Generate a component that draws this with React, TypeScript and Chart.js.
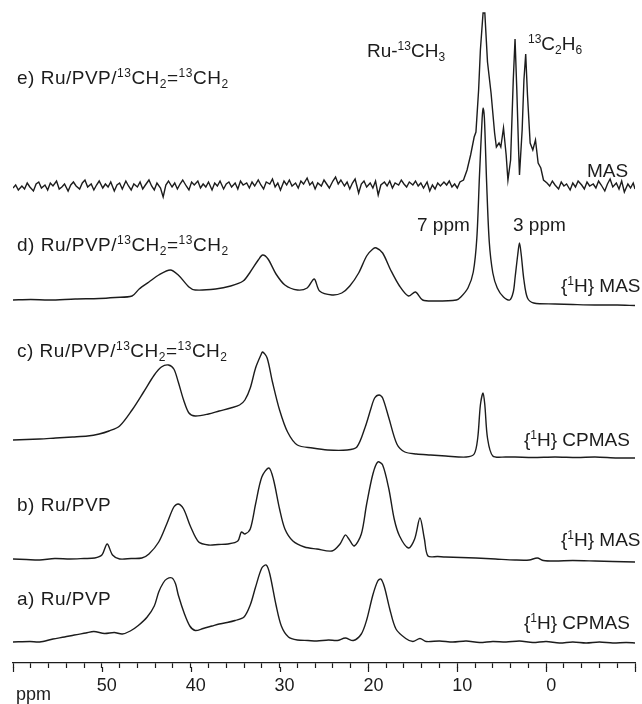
import React, { useEffect, useRef } from 'react';
import { Chart, registerables } from 'chart.js';

Chart.register(...registerables);

const FONT = '"Liberation Sans", Arial, Helvetica, sans-serif';
const INK = '#1c1c1c';

// x axis (ppm, reversed)
const PPM_LEFT = 60;
const PPM_RIGHT = -10;
const PPM_STEP = 2;
const TICK_LABELS = [50, 40, 30, 20, 10, 0];
const MAJOR_TICKS = [60, 50, 40, 30, 20, 10, 0, -10];

// each spectrum: [ppm, intensity above its own baseline]
const specA: [number, number][] = [
  [60, 0], [58.1, 0.5], [57, 0], [55.5, 3], [54.2, 5], [53.1, 7], [51.8, 9], [50.9, 10.5], [49.7, 8.5],
  [48.6, 9.5], [47.7, 8], [46.8, 11], [45.9, 16.5], [44.9, 25], [44.1, 36], [43.6, 50], [43.1, 59],
  [42.7, 63], [42.1, 64], [41.7, 58], [41.4, 47], [40.7, 28], [40.1, 16], [39.5, 11.5], [38.6, 13.5],
  [37.6, 16], [36.8, 18], [35.9, 19.5], [35.0, 21.5], [34.0, 25], [33.3, 37], [32.7, 55], [32.0, 74],
  [31.5, 77], [31.1, 68], [30.4, 37], [29.8, 16], [29.0, 5], [28.0, 2], [26.8, 1.5], [25.8, 1],
  [24.5, 2], [23.5, 1.5], [22.6, 4], [21.7, 1.5], [20.8, 8], [20.2, 22], [19.5, 47], [18.95, 61],
  [18.6, 63], [18.2, 55], [17.6, 33], [16.9, 13], [15.8, 3.5], [15.0, 0.5], [14.2, 3.5], [13.5, 0.5],
  [12.0, 1], [10.5, 0], [9.0, 1], [7.5, -0.5], [6.0, 0.5], [4.5, 0], [3.0, 1], [1.5, -0.5], [0, 0.5],
  [-1.5, -1], [-3, 0], [-4.5, -1], [-6, 0], [-7.5, -1], [-9, -0.5], [-10, -1],
];

const specB: [number, number][] = [
  [60, 0], [58.5, -0.5], [57, -1], [55.3, 0.5], [53.6, 0], [52, 0.5], [50.8, 1], [50.0, 4], [49.4, 15],
  [48.8, 4], [48.0, 0], [46.7, 0.5], [45.5, 1], [44.7, 5], [43.6, 17], [42.7, 35], [41.9, 52],
  [41.4, 55], [40.8, 50], [40.0, 32], [39.1, 17], [38.0, 14], [36.9, 14.5], [35.8, 15], [34.7, 18],
  [34.3, 27], [33.9, 25], [33.3, 30], [32.7, 55], [32.0, 82], [31.2, 91], [30.7, 80], [30.0, 50],
  [29.4, 30], [28.5, 18], [27.2, 12], [25.8, 10], [24.1, 8], [23.2, 15], [22.6, 24], [22.2, 20],
  [21.6, 13], [20.8, 25], [20.2, 55], [19.5, 85], [18.95, 97], [18.4, 94], [17.7, 70], [17.1, 40],
  [16.5, 23], [15.5, 11], [14.8, 20], [14.2, 41], [13.7, 20], [13.3, 3], [12.2, 2.5], [11.3, 2],
  [9.6, 1.5], [7.9, 1], [5.7, 0], [3.5, -1], [1.9, -1], [1.0, 1], [0.3, -1.5], [-1, -2], [-3, -1.5],
  [-5.5, -2], [-7.5, -2.5], [-10, -3],
];

const specC: [number, number][] = [
  [60, 0], [57, 1], [55.2, 2], [53.3, 3], [51.6, 4], [50.3, 6], [49.2, 9], [48.0, 14], [46.6, 30],
  [45.3, 48], [44.1, 65], [43.3, 73], [42.5, 75], [41.9, 71], [41.4, 58], [40.8, 40], [40.2, 27],
  [39.5, 24], [38.0, 26], [36.8, 29], [35.5, 32], [34.5, 35], [33.9, 40], [33.3, 52], [32.7, 72],
  [32.1, 85], [31.9, 88], [31.4, 82], [30.8, 58], [30.0, 30], [29.1, 8], [28.0, -5], [26.3, -8],
  [24.6, -10], [22.4, -10], [21.3, -7], [20.4, 12], [19.7, 32], [19.3, 42], [18.8, 45], [18.4, 42],
  [17.7, 22], [16.8, -4], [15.9, -12], [14.6, -14], [13.0, -15], [11.3, -16], [9.0, -17], [8.1, -14],
  [7.7, 2], [7.4, 35], [7.1, 47], [6.9, 35], [6.6, 2], [6.0, -16], [4.5, -17], [3.5, -17], [1.5, -17.5],
  [-1.0, -17], [-3.5, -17.5], [-5.5, -17], [-8, -18], [-10, -18],
];

const specD: [number, number][] = [
  [60, 0], [58, 0.5], [55.9, 0], [53, 1], [50.3, 1.5], [48.5, 2.5], [46.6, 4], [45.8, 11], [44.7, 18],
  [43.6, 25], [42.3, 30], [41.4, 25], [40.2, 13], [39.5, 10], [37.2, 11], [35.5, 14], [34.1, 19],
  [33.3, 28], [32.4, 40], [31.9, 45], [31.3, 41], [30.4, 26], [29.4, 15], [28.0, 10], [26.9, 12],
  [26.1, 21], [25.5, 9], [24.1, 5], [23.0, 7], [22.1, 14], [21.1, 27], [20.2, 44], [19.5, 51],
  [19.1, 52], [18.4, 47], [17.5, 30], [16.5, 14], [15.5, 4], [14.7, 8], [13.9, 0], [12.4, -1],
  [10.1, 0], [9.6, 3], [8.8, 12], [8.2, 28], [7.8, 62], [7.5, 125], [7.2, 182], [7.1, 192],
  [6.95, 182], [6.7, 118], [6.4, 58], [6.0, 27], [5.5, 12], [4.8, 3], [4.1, 0], [3.7, 8], [3.5, 22],
  [3.2, 45], [3.0, 57], [2.8, 45], [2.5, 20], [2.1, 2], [1.4, -3], [-1, -4], [-3, -4.5], [-5.5, -5],
  [-8, -5], [-10, -5.5],
];

const specE: [number, number][] = [
  [60.0, -1], [59.7, 2], [59.4, -3], [59.0, 1], [58.7, -2], [58.4, 4], [58.1, 0], [57.7, -4], [57.4, 3],
  [57.1, 5], [56.8, -1], [56.4, 2], [56.1, -3], [55.8, 4], [55.5, 1], [55.1, 6], [54.8, -2], [54.5, 0],
  [54.2, 3], [53.8, -4], [53.5, 2], [53.2, 5], [52.9, 1], [52.5, -2], [52.2, 4], [51.9, 7], [51.6, 0],
  [51.2, 3], [50.9, -3], [50.6, 2], [50.3, 6], [49.9, -1], [49.6, 3], [49.3, 0], [49.0, 5], [48.6, -4],
  [48.3, 2], [48.0, 4], [47.7, -2], [47.3, 6], [47.0, 1], [46.7, -3], [46.4, 3], [46.0, 0], [45.7, 5],
  [45.4, -2], [45.1, 2], [44.7, 7], [44.4, 1], [44.1, -3], [43.8, 4], [43.4, -1], [43.1, -10], [42.8, 2],
  [42.5, 6], [42.1, 0], [41.8, 4], [41.5, -2], [41.2, 3], [40.9, 7], [40.5, 1], [40.2, -3], [39.9, 5],
  [39.6, 2], [39.2, 6], [38.9, -1], [38.6, 3], [38.3, 0], [38.0, 5], [37.6, -3], [37.3, 4], [37.0, 1],
  [36.7, 6], [36.3, -2], [36.0, 3], [35.7, 5], [35.4, 0], [35.0, 4], [34.7, -2], [34.4, 6], [34.1, 2],
  [33.7, 4], [33.4, -1], [33.1, 5], [32.8, 1], [32.4, 7], [32.1, 2], [31.8, -2], [31.5, 5], [31.1, 3],
  [30.8, 8], [30.5, 0], [30.2, 4], [29.9, -3], [29.5, 6], [29.2, 2], [28.9, 7], [28.6, 1], [28.2, 4],
  [27.9, -1], [27.6, 6], [27.3, 3], [26.9, 9], [26.6, 2], [26.3, 5], [26.0, -2], [25.7, 4], [25.3, 1],
  [25.0, 7], [24.7, 3], [24.4, -1], [24.0, 6], [23.7, 10], [23.4, 3], [23.1, 7], [22.7, 1], [22.4, 5],
  [22.1, -2], [21.8, 4], [21.5, 8], [21.1, -6], [20.8, 3], [20.5, 6], [20.2, 0], [19.8, 4], [19.5, -1],
  [19.2, 6], [18.9, -8], [18.6, 2], [18.2, 5], [17.9, 1], [17.6, 6], [17.3, -1], [17.0, 4], [16.6, 2],
  [16.3, 7], [16.0, 3], [15.7, 0], [15.4, 5], [15.0, 2], [14.7, 6], [14.4, 1], [14.1, 4], [13.8, -1],
  [13.4, 5], [13.1, -4], [12.8, 2], [12.5, -2], [12.2, 4], [11.9, 1], [11.5, 5], [11.2, 2], [10.9, 6],
  [10.6, 0], [10.3, 3], [10.0, -1],
  [9.7, 5], [9.3, 7], [8.9, 17], [8.5, 32], [8.1, 50], [7.9, 55], [7.6, 97], [7.4, 137],
  [7.1, 174], [6.9, 174], [6.6, 125], [6.2, 94], [5.8, 54], [5.6, 40], [5.3, 44], [5.1, 40], [4.8, 59],
  [4.5, 32], [4.3, 7], [4.0, 27], [3.7, 107], [3.5, 148], [3.3, 97], [3.1, 37], [3.0, 12], [2.7, 57],
  [2.5, 107], [2.3, 133], [2.1, 92], [1.8, 44], [1.5, 37], [1.2, 47], [0.9, 24], [0.6, 19], [0.3, 7],
  [-0.1, 4], [-0.4, 1], [-0.7, 6], [-1.0, 2], [-1.4, -2], [-1.7, 5], [-2.0, 1], [-2.3, 3], [-2.7, -3],
  [-3.0, 4], [-3.3, 0], [-3.6, 6], [-4.0, 2], [-4.3, -2], [-4.6, 5], [-4.9, 1], [-5.3, 3], [-5.6, -1],
  [-5.9, 6], [-6.2, 2], [-6.6, -4], [-6.9, 3], [-7.2, 8], [-7.5, 0], [-7.9, 4], [-8.2, -2], [-8.5, 6],
  [-8.8, -5], [-9.2, 3], [-9.5, -1], [-9.8, 4], [-10.0, -2],
];

const SPECTRA = [
  { key: 'a', data: specA, tension: 0.3 },
  { key: 'b', data: specB, tension: 0.3 },
  { key: 'c', data: specC, tension: 0.3 },
  { key: 'd', data: specD, tension: 0.3 },
  { key: 'e', data: specE, tension: 0 },
];
// vertical stacking offset of each spectrum baseline
const STACK_OFFSET: Record<string, number> = { a: 21, b: 104, c: 223, d: 363, e: 476 };
const Y_MAX = 663;

type Part = [string, 'n' | 'sup' | 'sub'];
type Label = { x: number; y: number; parts: Part[]; spacing?: number };

const SAMPLE_13C: Part[] = [['Ru/PVP/', 'n'], ['13', 'sup'], ['CH', 'n'], ['2', 'sub'], ['=', 'n'], ['13', 'sup'], ['CH', 'n'], ['2', 'sub']];

const LABELS: Label[] = [
  { x: 17, y: 84, parts: [['e) ', 'n'], ...SAMPLE_13C], spacing: 0.5 },
  { x: 367, y: 57, parts: [['Ru-', 'n'], ['13', 'sup'], ['CH', 'n'], ['3', 'sub']] },
  { x: 528, y: 50, parts: [['13', 'sup'], ['C', 'n'], ['2', 'sub'], ['H', 'n'], ['6', 'sub']] },
  { x: 587, y: 177, parts: [['MAS', 'n']] },
  { x: 17, y: 251, parts: [['d) ', 'n'], ...SAMPLE_13C], spacing: 0.5 },
  { x: 417, y: 231, parts: [['7 ppm', 'n']] },
  { x: 513, y: 231, parts: [['3 ppm', 'n']] },
  { x: 561, y: 292, parts: [['{', 'n'], ['1', 'sup'], ['H} MAS', 'n']] },
  { x: 17, y: 357, parts: [['c) ', 'n'], ...SAMPLE_13C], spacing: 0.5 },
  { x: 524, y: 446, parts: [['{', 'n'], ['1', 'sup'], ['H} CPMAS', 'n']] },
  { x: 17, y: 511, parts: [['b) Ru/PVP', 'n']], spacing: 0.5 },
  { x: 561, y: 546, parts: [['{', 'n'], ['1', 'sup'], ['H} MAS', 'n']] },
  { x: 17, y: 605, parts: [['a) Ru/PVP', 'n']], spacing: 0.5 },
  { x: 524, y: 629, parts: [['{', 'n'], ['1', 'sup'], ['H} CPMAS', 'n']] },
];

const textPlugin = {
  id: 'nmrText',
  afterDraw(chart: any) {
    const ctx: CanvasRenderingContext2D = chart.ctx;
    const xs = chart.scales.x;
    const bottom = chart.chartArea.bottom;
    ctx.save();
    // longer major ticks
    ctx.strokeStyle = INK;
    ctx.lineWidth = 1.2;
    MAJOR_TICKS.forEach((v) => {
      const px = Math.round(xs.getPixelForValue(v)) + 0.5;
      ctx.beginPath();
      ctx.moveTo(px, bottom + 4);
      ctx.lineTo(px, bottom + 9);
      ctx.stroke();
    });
    // axis unit
    ctx.fillStyle = INK;
    ctx.textBaseline = 'alphabetic';
    ctx.font = `18px ${FONT}`;
    ctx.fillText('ppm', 16, 700);
    // annotations
    LABELS.forEach((lab) => {
      let x = lab.x;
      (ctx as any).letterSpacing = `${lab.spacing || 0}px`;
      lab.parts.forEach(([t, kind]) => {
        let dy = 0;
        if (kind === 'n') ctx.font = `19px ${FONT}`;
        else {
          ctx.font = `12px ${FONT}`;
          dy = kind === 'sup' ? -7 : 4;
        }
        ctx.fillText(t, x, lab.y + dy);
        x += ctx.measureText(t).width;
      });
    });
    (ctx as any).letterSpacing = '0px';
    ctx.restore();
  },
};

export default function App() {
  const ref = useRef<HTMLCanvasElement | null>(null);
  useEffect(() => {
    if (!ref.current) return;
    const chart = new Chart(ref.current, {
      type: 'line',
      data: {
        datasets: SPECTRA.map((s) => ({
          label: s.key,
          data: s.data.map(([ppm, v]) => ({ x: ppm, y: v + STACK_OFFSET[s.key] })),
          borderColor: INK,
          borderWidth: 1.4,
          pointRadius: 0,
          tension: s.tension,
          fill: false,
        })),
      },
      options: {
        responsive: false,
        animation: false,
        devicePixelRatio: 1,
        layout: { padding: { left: 13, right: 1, top: 0, bottom: 0 } },
        plugins: { legend: { display: false }, tooltip: { enabled: false } },
        scales: {
          x: {
            type: 'linear',
            reverse: true,
            min: PPM_RIGHT,
            max: PPM_LEFT,
            afterFit: (s: any) => {
              s.height = 41;
            },
            ticks: {
              stepSize: PPM_STEP,
              autoSkip: false,
              maxRotation: 0,
              minRotation: 0,
              padding: 7,
              labelOffset: 5,
              color: INK,
              font: { family: FONT, size: 18 },
              callback: (v: any) => (TICK_LABELS.includes(Number(v)) ? String(v) : ''),
            },
            grid: { drawOnChartArea: false, drawTicks: true, tickLength: 5, tickColor: INK, tickWidth: 1.2 },
            border: { display: true, color: INK, width: 1.3 },
          },
          y: { display: false, min: 0, max: Y_MAX },
        },
      },
      plugins: [textPlugin],
    });
    return () => chart.destroy();
  }, []);
  return (
    <div style={{ position: 'fixed', left: 0, top: 0, width: 642, height: 704, background: '#fff' }}>
      <canvas ref={ref} width={642} height={704} style={{ width: 642, height: 704 }} />
    </div>
  );
}
